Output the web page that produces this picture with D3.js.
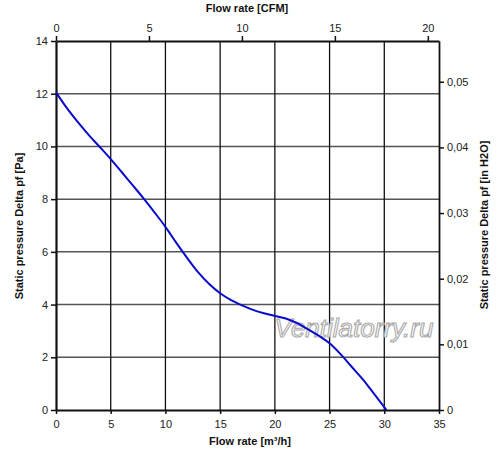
<!DOCTYPE html>
<html>
<head>
<meta charset="utf-8">
<script src="https://cdn.jsdelivr.net/npm/d3@7"></script>
<style>
  body { margin: 0; background: #fff; }
  text { font-family: "Liberation Sans", Arial, sans-serif; }
</style>
</head>
<body>
<div id="chart"></div>
<script>
// data: flow rate [m3/h] vs static pressure [Pa]
const flowM3h = [0, 1, 2, 3, 4, 5, 6, 7, 8, 9, 10, 11, 12, 13, 14, 15, 16, 17, 18, 19, 20, 21, 22, 23, 24, 25, 26, 27, 28, 29, 30.2];
const pressurePa = [12.05, 11.45, 10.92, 10.43, 9.98, 9.52, 9.03, 8.53, 8.03, 7.5, 6.95, 6.34, 5.76, 5.22, 4.78, 4.43, 4.17, 3.97, 3.8, 3.67, 3.57, 3.47, 3.3, 3.07, 2.82, 2.53, 2.12, 1.65, 1.18, 0.65, 0];

const bottomTicks = [0, 5, 10, 15, 20, 25, 30, 35];
const leftTicks = [0, 2, 4, 6, 8, 10, 12, 14];
const topTicks = [0, 5, 10, 15, 20];
const rightTicks = [0, 0.01, 0.02, 0.03, 0.04, 0.05];

const M3H_PER_CFM = 1.699;
const PA_PER_INH2O = 249.089;

const width = 500;
const height = 460;
const margin = { top: 41, right: 61, bottom: 50, left: 56 };
const ctrWidth = width - margin.left - margin.right;
const ctrHeight = height - margin.top - margin.bottom;

const svg = d3
  .select("#chart")
  .append("svg")
  .attr("width", width)
  .attr("height", height);

// scales
const x = d3.scaleLinear().domain([0, 35]).range([margin.left, margin.left + ctrWidth]);
const y = d3.scaleLinear().domain([0, 14]).range([margin.top + ctrHeight, margin.top]);
const xCfm = d3.scaleLinear().domain([0, 35 / M3H_PER_CFM]).range(x.range());
const yIn = d3.scaleLinear().domain([0, 14 / PA_PER_INH2O]).range(y.range());

// grid
svg
  .append("g")
  .selectAll("line")
  .data(leftTicks.slice(1, -1))
  .join("line")
  .attr("x1", x(0))
  .attr("x2", x(35))
  .attr("y1", (d) => y(d))
  .attr("y2", (d) => y(d))
  .attr("stroke", "#555")
  .attr("stroke-width", 1.5);

svg
  .append("g")
  .selectAll("line")
  .data(bottomTicks.slice(1, -1))
  .join("line")
  .attr("x1", (d) => x(d))
  .attr("x2", (d) => x(d))
  .attr("y1", y(0))
  .attr("y2", y(14))
  .attr("stroke", "#111")
  .attr("stroke-width", 1.3);

// watermark
svg
  .append("text")
  .attr("x", 354)
  .attr("y", 337)
  .attr("text-anchor", "middle")
  .attr("font-size", "26px")
  .attr("font-style", "italic")
  .attr("fill", "#fff")
  .attr("stroke", "#aaa")
  .attr("stroke-width", 1.1)
  .text("Ventilatorry.ru");

// axes
const styleAxis = (g, w) => {
  g.selectAll(".domain").attr("stroke", "#111").attr("stroke-width", w);
  g.selectAll(".tick line").attr("stroke", "#111").attr("stroke-width", 1.5);
  g.selectAll(".tick text").attr("fill", "#222").attr("font-size", "11px");
  g.attr("font-family", null);
};

const commaFmt = (d) => (d === 0 ? "0" : d.toFixed(2).replace(".", ","));

svg
  .append("g")
  .attr("transform", `translate(0,${y(0)})`)
  .call(d3.axisBottom(x).tickValues(bottomTicks).tickSize(4).tickSizeOuter(0).tickPadding(6))
  .call((g) => styleAxis(g, 2.2));

svg
  .append("g")
  .attr("transform", `translate(${x(0)},0)`)
  .call(d3.axisLeft(y).tickValues(leftTicks).tickSize(5).tickSizeOuter(0).tickPadding(3))
  .call((g) => styleAxis(g, 2.2));

svg
  .append("g")
  .attr("transform", `translate(0,${y(14)})`)
  .call(d3.axisTop(xCfm).tickValues(topTicks).tickSize(5).tickSizeOuter(0).tickPadding(4))
  .call((g) => styleAxis(g, 2));

svg
  .append("g")
  .attr("transform", `translate(${x(35)},0)`)
  .call(d3.axisRight(yIn).tickValues(rightTicks).tickSize(5).tickSizeOuter(0).tickPadding(3).tickFormat(commaFmt))
  .call((g) => styleAxis(g, 1.8));

// curve
const line = d3
  .line()
  .x((d, i) => x(flowM3h[i]))
  .y((d) => y(d))
  .curve(d3.curveMonotoneX);

svg
  .append("path")
  .datum(pressurePa)
  .attr("d", line)
  .attr("fill", "none")
  .attr("stroke", "#0a0acc")
  .attr("stroke-width", 2);

// titles
const title = (tx, ty, rot, txt) =>
  svg
    .append("text")
    .attr("transform", `translate(${tx},${ty}) rotate(${rot})`)
    .attr("text-anchor", "middle")
    .attr("font-size", "11px")
    .attr("font-weight", "bold")
    .attr("fill", "#111")
    .text(txt);

title(247, 12, 0, "Flow rate [CFM]");
title(250, 445, 0, "Flow rate [m³/h]");
title(23, 226, -90, "Static pressure Delta pf [Pa]");
title(488, 225, -90, "Static pressure Delta pf [in H2O]");
</script>
</body>
</html>
